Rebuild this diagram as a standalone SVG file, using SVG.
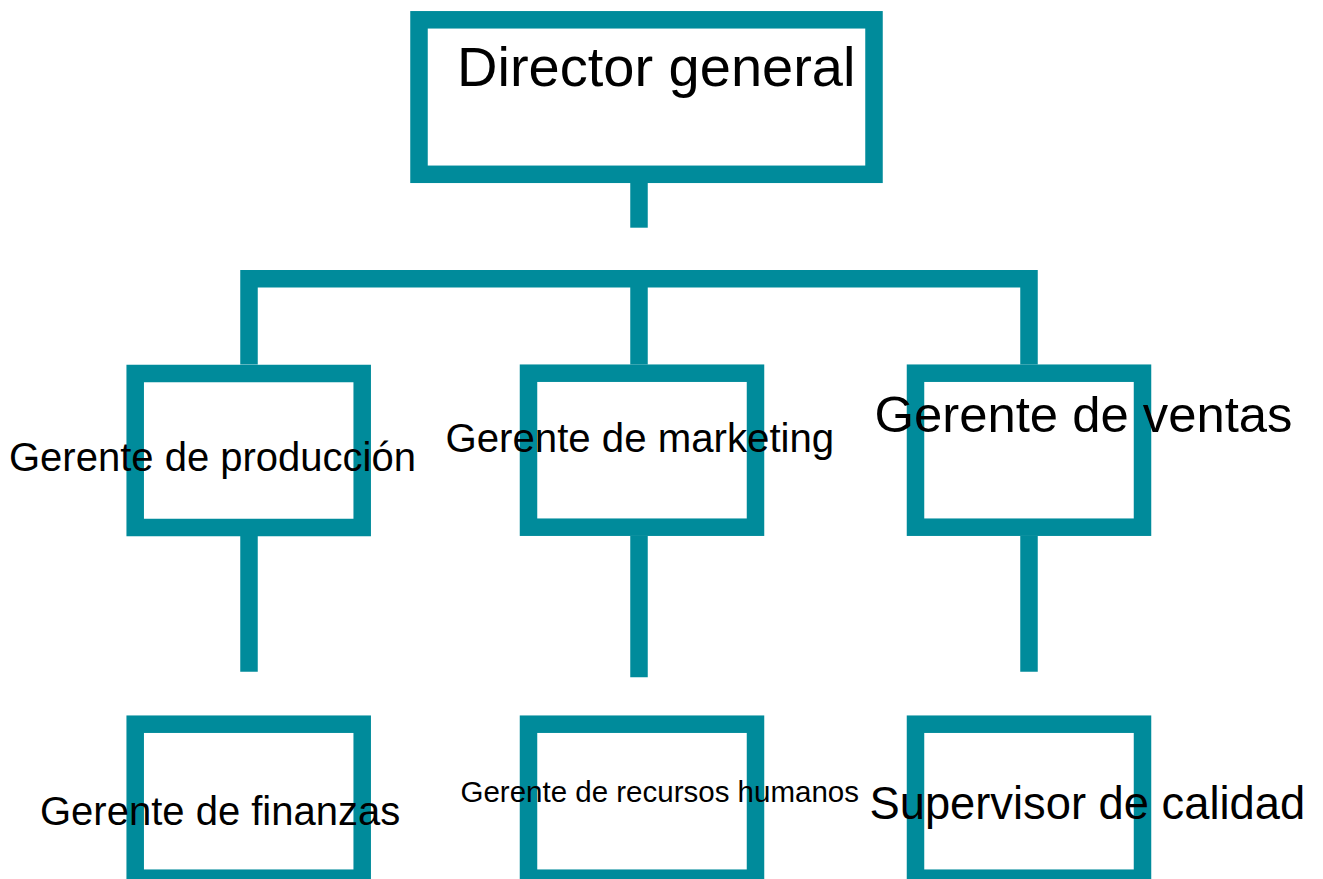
<svg xmlns="http://www.w3.org/2000/svg" width="1323" height="879" viewBox="0 0 1323 879">
<style>
.box{fill:#ffffff;stroke:#008B9B;stroke-width:17.5;}
.ln{fill:none;stroke:#008B9B;stroke-width:17.5;stroke-linecap:butt;stroke-linejoin:miter;}
text{font-family:"Liberation Sans",Arial,sans-serif;fill:#000000;}
</style>
<rect width="1323" height="879" fill="#ffffff"/>
<g id="connectors">
<path class="ln" d="M639 183 V227.7"/>
<path class="ln" d="M249 364.5 V278.7 H1029 V364.5"/>
<path class="ln" d="M639 270 V364.5"/>
<path class="ln" d="M249 536 V671.7"/>
<path class="ln" d="M639 536 V677.3"/>
<path class="ln" d="M1029 536 V671.7"/>
</g>
<g id="director">
<rect class="box" x="419" y="19.8" width="455" height="154.5"/>
<text x="457" y="86" font-size="56">Director general</text>
</g>
<g id="produccion">
<rect class="box" x="135.2" y="373.5" width="227" height="154"/>
<text x="9" y="470.5" font-size="40">Gerente de producción</text>
</g>
<g id="marketing">
<rect class="box" x="528.5" y="373.2" width="227" height="154"/>
<text x="445.5" y="452.3" font-size="40.2">Gerente de marketing</text>
</g>
<g id="ventas">
<rect class="box" x="915.5" y="373.2" width="227" height="154"/>
<text x="874.5" y="431.7" font-size="50.8">Gerente de ventas</text>
</g>
<g id="finanzas">
<rect class="box" x="135.2" y="724.2" width="227" height="154"/>
<text x="40" y="825" font-size="40">Gerente de finanzas</text>
</g>
<g id="rrhh">
<rect class="box" x="528.5" y="724.2" width="227" height="154"/>
<text x="460.5" y="801.7" font-size="29.5">Gerente de recursos humanos</text>
</g>
<g id="calidad">
<rect class="box" x="915.5" y="724.2" width="227" height="154"/>
<text x="869.5" y="819.3" font-size="45.3">Supervisor de calidad</text>
</g>
</svg>
